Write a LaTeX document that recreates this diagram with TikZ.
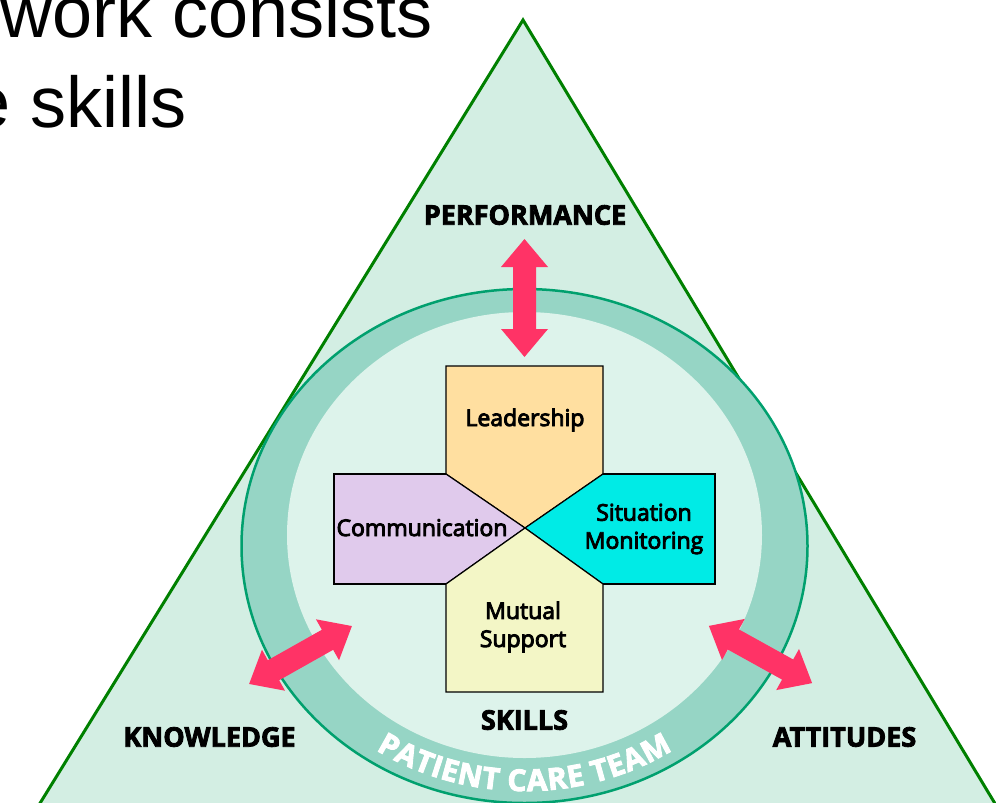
\documentclass[tikz,border=0pt]{standalone}
\usepackage{fontspec}
\setmainfont{Open Sans}[BoldFeatures={FakeBold=3}]
\newfontfamily\slidefont{Liberation Sans}
\newfontfamily\boxfont{Open Sans}[FakeBold=4]
\usetikzlibrary{decorations.text}

\definecolor{tribg}{HTML}{D3EEE3}
\definecolor{triline}{HTML}{008000}
\definecolor{ringbg}{HTML}{96D5C5}
\definecolor{ringline}{HTML}{00A06E}
\definecolor{innerbg}{HTML}{DDF3EB}
\definecolor{arrowpink}{HTML}{FF3366}
\definecolor{leadfill}{HTML}{FFDFA0}
\definecolor{commfill}{HTML}{E0CAEC}
\definecolor{sitfill}{HTML}{00EBE6}
\definecolor{mutfill}{HTML}{F3F6C6}

\tikzset{
  cornerlabel/.style={font=\bfseries\fontsize{27}{27}\selectfont},
  skillname/.style={font=\boxfont\fontsize{23}{28}\selectfont,align=center},
  armbox/.style={draw=black,line width=1.2pt,line join=miter},
  armedge/.style={line width=2.6pt,line join=miter},
  twoway/.pic={
    \fill[arrowpink] (-59,0) -- (-31,-23.5) -- (-31,-11.5) -- (31,-11.5)
      -- (31,-23.5) -- (59,0) -- (31,23.5) -- (31,11.5) -- (-31,11.5)
      -- (-31,23.5) -- cycle;
  }
}

\begin{document}
\begin{tikzpicture}[x=1pt,y=-1pt]
  \useasboundingbox (0,0) rectangle (996,803);

  % slide title, running off the page
  \node[font=\slidefont\fontsize{72}{86}\selectfont,anchor=base east,inner sep=0pt]
    (title1) at (433,37) {work consists};
  \node[font=\slidefont\fontsize{72}{86}\selectfont,anchor=base east,inner sep=0pt]
    (title2) at (187,127) {e skills};

  % triangle
  \filldraw[fill=tribg,draw=triline,line width=3pt,line join=miter]
    (523,20) -- (1029,860) -- (5,860) -- cycle;

  % team ring
  \fill[ringbg] (524.5,546) ellipse [x radius=283,y radius=257];
  \fill[innerbg] (524.5,535) ellipse [x radius=237.5,y radius=223];
  \draw[ringline,line width=2.5pt] (524.5,546) ellipse [x radius=283,y radius=257];

  \path[decorate,decoration={text along path,
      text={|\bfseries\fontsize{30}{30}\selectfont|PATIENT CARE TEAM},
      text align=center,text color=white,raise=-11pt}]
    (299.3,660) arc [start angle=150,end angle=30,x radius=260,y radius=240];

  % arrows
  \pic[rotate=90] (toperf) at (524.5,298) {twoway};
  \pic[rotate=29.4] (toknow) at (300.5,655) {twoway};
  \pic[rotate=-29] (toatt) at (760.5,654.5) {twoway};

  % the four skills
  \coordinate (hub) at (525,528);
  \filldraw[armbox,fill=leadfill] (446,366) -- (603,366) -- (603,474) -- (hub) -- (446,474) -- cycle;
  \filldraw[armbox,fill=commfill] (334,474) -- (446,474) -- (hub) -- (446,584) -- (334,584) -- cycle;
  \filldraw[armbox,fill=sitfill] (715,474) -- (603,474) -- (hub) -- (603,584) -- (715,584) -- cycle;
  \filldraw[armbox,fill=mutfill] (446,692) -- (446,584) -- (hub) -- (603,584) -- (603,692) -- cycle;
  \draw[armedge] (446,474) -- (334,474) -- (334,584) -- (446,584);
  \draw[armedge] (603,474) -- (715,474) -- (715,584) -- (603,584);

  \node[skillname,anchor=base] (lead) at (525,426) {Leadership};
  \node[skillname,anchor=base] (comm) at (422,536) {Communication};
  \node[skillname] (sit) at (644,529) {Situation\\Monitoring};
  \node[skillname] (mut) at (523,627) {Mutual\\Support};

  % corner labels
  \node[cornerlabel] (perf) at (525,215) {PERFORMANCE};
  \node[cornerlabel] (know) at (209.5,737) {KNOWLEDGE};
  \node[cornerlabel] (att) at (844.5,737) {ATTITUDES};
  \node[cornerlabel] (skills) at (524.5,720) {SKILLS};
\end{tikzpicture}
\end{document}
